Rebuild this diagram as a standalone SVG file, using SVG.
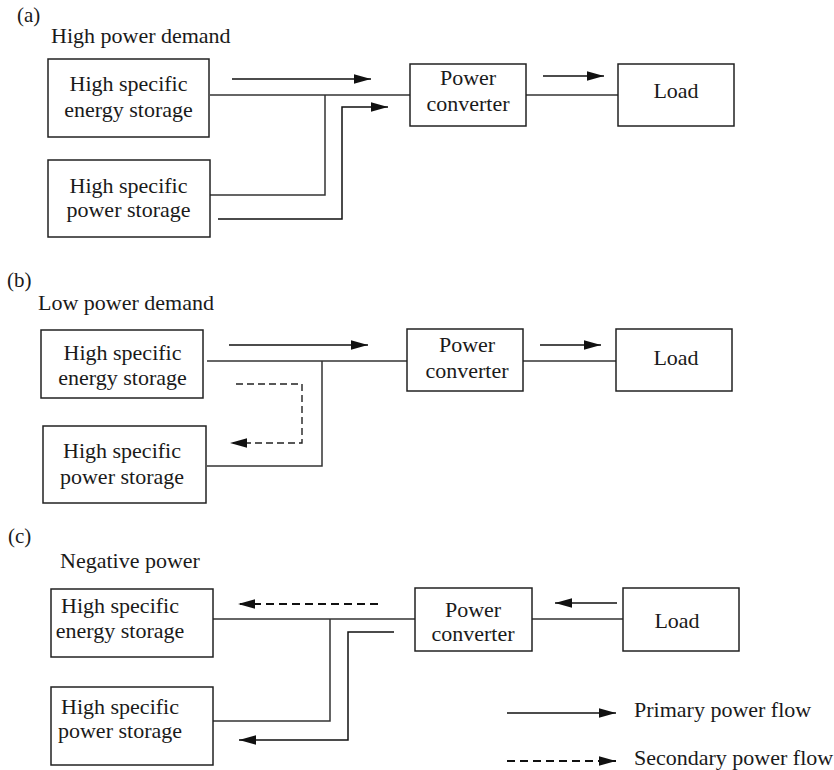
<svg xmlns="http://www.w3.org/2000/svg" width="834" height="770" viewBox="0 0 834 770">
<defs>
<marker id="ah" markerUnits="userSpaceOnUse" markerWidth="17" markerHeight="10" viewBox="0 0 16 9" refX="16" refY="4.5" orient="auto">
<path d="M0,0 L16,4.5 L0,9 z" fill="#111"/>
</marker>
<style>
.t{font-family:"Liberation Serif","Times New Roman",serif;font-size:22px;fill:#1a1a1a}
.c{text-anchor:middle}
.lbl{font-size:21px}
.box{fill:#fff;stroke:#222;stroke-width:1.5}
.ln{fill:none;stroke:#333;stroke-width:1.5}
.ar{fill:none;stroke:#111;stroke-width:1.5;marker-end:url(#ah)}
.d1{fill:none;stroke:#222;stroke-width:1.4;stroke-dasharray:7,4;marker-end:url(#ah)}
.d2{fill:none;stroke:#111;stroke-width:2.2;stroke-dasharray:8,5;marker-end:url(#ah)}
</style>
</defs>
<rect width="834" height="770" fill="#fff"/>

<g id="connectors">
<!-- (a) -->
<path class="ln" d="M210,95 H410"/>
<path class="ln" d="M325,95 V195 H210"/>
<path class="ln" d="M526,95 H618"/>
<path class="ar" d="M232,79 H371"/>
<path class="ar" d="M218,219 H342 V107 H388"/>
<path class="ar" d="M543,76 H604"/>
<!-- (b) -->
<path class="ln" d="M207,361 H407"/>
<path class="ln" d="M322,361 V466 H207"/>
<path class="ln" d="M523,361 H616"/>
<path class="ar" d="M229,345 H368"/>
<path class="d1" d="M236,384 H302 V443 H230"/>
<path class="ar" d="M540,345 H601"/>
<!-- (c) -->
<path class="ln" d="M213,619 H415"/>
<path class="ln" d="M330,619 V721 H213"/>
<path class="ln" d="M532,619 H623"/>
<path class="d2" d="M378,604 H238"/>
<path class="ar" d="M394,632 H348 V740 H239"/>
<path class="ar" d="M617,603 H555"/>
<!-- legend -->
<path class="ar" d="M507,713 H616"/>
<path class="d2" d="M507,761 H616"/>
</g>

<g id="labels">
<text class="t lbl" x="17" y="22">(a)</text>
<text class="t" x="51" y="43">High power demand</text>
<text class="t lbl" x="7" y="287">(b)</text>
<text class="t" x="38" y="310">Low power demand</text>
<text class="t lbl" x="8" y="543">(c)</text>
<text class="t" x="60" y="568">Negative power</text>
</g>

<g id="a-energy">
<rect class="box" x="48" y="59" width="161" height="78"/>
<text class="t c" x="128.5" y="91">High specific</text>
<text class="t c" x="128.5" y="117">energy storage</text>
</g>
<g id="a-power">
<rect class="box" x="48" y="160" width="162" height="77"/>
<text class="t c" x="128.5" y="193">High specific</text>
<text class="t c" x="128.5" y="217">power storage</text>
</g>
<g id="a-converter">
<rect class="box" x="410" y="64" width="116" height="62"/>
<text class="t c" x="468" y="85">Power</text>
<text class="t c" x="468" y="111">converter</text>
</g>
<g id="a-load">
<rect class="box" x="618" y="64" width="116" height="62"/>
<text class="t c" x="676" y="98">Load</text>
</g>

<g id="b-energy">
<rect class="box" x="41" y="330" width="162" height="68"/>
<text class="t c" x="122.5" y="360">High specific</text>
<text class="t c" x="122.5" y="385">energy storage</text>
</g>
<g id="b-power">
<rect class="box" x="43" y="426" width="163" height="77"/>
<text class="t c" x="122" y="458">High specific</text>
<text class="t c" x="122" y="484">power storage</text>
</g>
<g id="b-converter">
<rect class="box" x="407" y="329" width="116" height="62"/>
<text class="t c" x="467" y="352">Power</text>
<text class="t c" x="467" y="378">converter</text>
</g>
<g id="b-load">
<rect class="box" x="616" y="329" width="116" height="62"/>
<text class="t c" x="676" y="365">Load</text>
</g>

<g id="c-energy">
<rect class="box" x="51" y="589" width="162" height="68"/>
<text class="t c" x="120" y="613">High specific</text>
<text class="t c" x="120" y="638">energy storage</text>
</g>
<g id="c-power">
<rect class="box" x="51" y="687" width="162" height="78"/>
<text class="t c" x="120" y="714">High specific</text>
<text class="t c" x="120" y="738">power storage</text>
</g>
<g id="c-converter">
<rect class="box" x="415" y="588" width="117" height="63"/>
<text class="t c" x="473" y="617">Power</text>
<text class="t c" x="473" y="641">converter</text>
</g>
<g id="c-load">
<rect class="box" x="623" y="588" width="116" height="63"/>
<text class="t c" x="677" y="628">Load</text>
</g>

<g id="legend">
<text class="t" x="634" y="717">Primary power flow</text>
<text class="t" x="634" y="765">Secondary power flow</text>
</g>
</svg>
